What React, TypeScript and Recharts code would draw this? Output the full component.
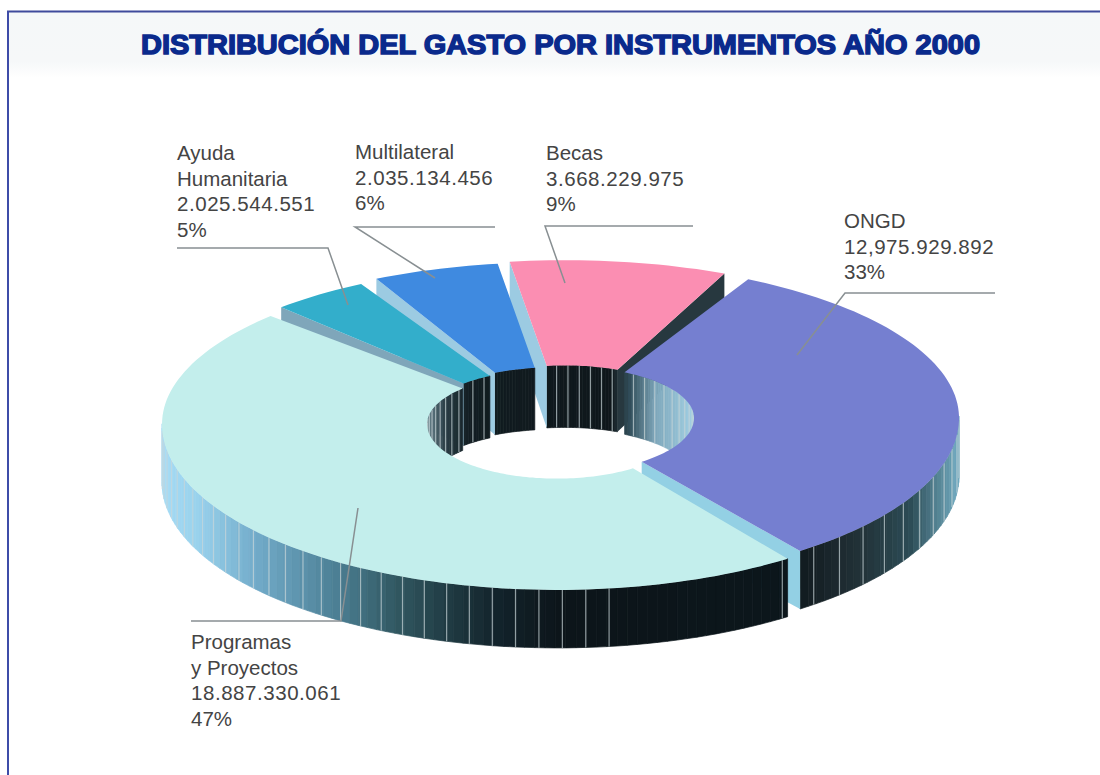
import { PieChart, Pie } from "recharts";

const categories = ["Ayuda Humanitaria", "Multilateral", "Becas", "ONGD", "Programas y Proyectos"];
const amounts = [2025544551, 2035134456, 3668229975, 12975929892, 18887330061];
const amountLabels = ["2.025.544.551", "2.035.134.456", "3.668.229.975", "12,975.929.892", "18.887.330.061"];
const percentLabels = ["5%", "6%", "9%", "33%", "47%"];
const nameLines = [["Ayuda", "Humanitaria"], ["Multilateral"], ["Becas"], ["ONGD"], ["Programas", "y Proyectos"]];

const rows = categories.map((name, i) => ({ name, value: amounts[i] }));
const total = amounts.reduce((a, b) => a + b, 0);

// painted in two passes so the slices overlap like the drawing: back ones going left, then the front ones
const backRows = [rows[2], rows[1], rows[0]];
const frontRows = [rows[3], rows[4]];
const sum = (list: { value: number }[]) => list.reduce((a, r) => a + r.value, 0);

const START_ANGLE = 64.7;
const WIDTH = 1100;
const HEIGHT = 775;
const CX = 557;
const CY = 424;
const OUTER = 395;
const INNER = 130;
const DEPTH = 58;
const INNER_DEPTH = 62;
const FONT = "'Liberation Sans', Arial, sans-serif";

// colours and offsets of each slice, same order as categories
const topColors = ["#33aecb", "#3f8ae0", "#fb8eb2", "#757fd0", "#c3eeec"];
const cutColors = ["#7fa6ba", "#9ccbe2", "#9ccbe2", "#93d0e4", "#93d0e4"];
const lowCutColors = ["#7fa6ba", "#9ccbe2", "#27383f", "#93d0e4", "#93d0e4"];
const offsets = [[-4, -3], [-4, -5], [8, -7], [7, -6], [0, 0]];
const trims = [[2.5, 1.5], [0, 0], [1.5, 0], [0, 2.5], [1.5, 1]];
const innerStripes = [6, 0, 5, 6, 5];
const outerStripes = [0, 0, 0, 5, 3.4];

// label block and leader line of each slice
const labelBoxes = [
  { x: 177, y: 160, line: [[177, 248], [328, 248], [348, 305]] },
  { x: 355, y: 159, line: [[495, 227], [355, 227], [435, 278]] },
  { x: 546, y: 160, line: [[693, 226], [545, 226], [565, 283]] },
  { x: 844, y: 228, line: [[995, 293], [845, 293], [797, 355]] },
  { x: 191, y: 649, line: [[191, 621], [341, 621], [358, 508]] },
];

const outerRamp: [number, string][] = [
  [162, "#a6dcf5"], [200, "#98d1ec"], [260, "#70a9c7"], [330, "#4f8399"], [400, "#30565f"],
  [450, "#1f3a42"], [500, "#12222a"], [560, "#0c151a"], [790, "#0c161b"], [815, "#162025"],
  [860, "#223238"], [910, "#2c4b55"], [957, "#6fa8bd"],
];
const innerRamp: [number, string][] = [
  [425, "#6f8a94"], [445, "#2a3d45"], [470, "#121d22"], [610, "#0f171b"], [630, "#33505c"],
  [655, "#7ea7bb"], [700, "#a8d6ea"],
];

const hex = (c: string) => [1, 3, 5].map((i) => parseInt(c.slice(i, i + 2), 16));
const rampColor = (ramp: [number, string][], x: number) => {
  if (x <= ramp[0][0]) return ramp[0][1];
  for (let i = 1; i < ramp.length; i++) {
    if (x <= ramp[i][0]) {
      const t = (x - ramp[i - 1][0]) / (ramp[i][0] - ramp[i - 1][0]);
      const a = hex(ramp[i - 1][1]);
      const b = hex(ramp[i][1]);
      return `rgb(${a.map((v, k) => Math.round(v + (b[k] - v) * t)).join(",")})`;
    }
  }
  return ramp[ramp.length - 1][1];
};

const rad = (d: number) => (d * Math.PI) / 180;
const toPath = (pts: number[][]) => "M" + pts.map((p) => `${p[0].toFixed(1)},${p[1].toFixed(1)}`).join("L") + "Z";

// flattened circle: a bit less tall behind than in front
const project = (cx: number, cy: number, deg: number, r: number, z = 0) => {
  const s = Math.sin(rad(deg));
  const tilt = s > 0 ? 0.397 : 0.42;
  return [cx + r * Math.cos(rad(deg)), cy - r * s * tilt + z];
};

const Slice3D = (props: any) => {
  const { name, startAngle, endAngle, cx, cy, innerRadius, outerRadius } = props;
  const i = categories.indexOf(name);
  const ox = cx + offsets[i][0];
  const oy = cy + offsets[i][1];
  const lo = Math.min(startAngle, endAngle) + trims[i][0];
  const hi = Math.max(startAngle, endAngle) - trims[i][1];
  const steps = Math.max(2, Math.ceil((hi - lo) / 1.5));
  const at = (k: number) => lo + ((hi - lo) * k) / steps;

  const outerArc: number[][] = [];
  const innerArc: number[][] = [];
  for (let k = 0; k <= steps; k++) {
    outerArc.push(project(ox, oy, at(k), outerRadius));
    innerArc.unshift(project(ox, oy, at(k), innerRadius));
  }

  const walls: any[] = [];
  for (let k = 0; k < steps; k++) {
    const a = at(k);
    const b = at(k + 1);
    const mid = (a + b) / 2;
    const front = Math.sin(rad(mid)) < 0;
    const r = front ? outerRadius : innerRadius;
    const dz = front ? DEPTH : INNER_DEPTH;
    const fill = rampColor(front ? outerRamp : innerRamp, project(ox, oy, mid, r)[0]);
    const d = toPath([
      project(ox, oy, a, r), project(ox, oy, b, r),
      project(ox, oy, b, r, dz), project(ox, oy, a, r, dz),
    ]);
    walls.push(<path key={`w${k}`} d={d} fill={fill} stroke={fill} strokeWidth={0.7} />);
  }

  // thin pale lines on the walls
  const stripes: any[] = [];
  const addStripes = (step: number, isFront: boolean) => {
    if (step <= 0) return;
    for (let a = lo + step / 2; a < hi; a += step) {
      const front = Math.sin(rad(a)) < 0;
      if (front !== isFront) continue;
      const r = front ? outerRadius : innerRadius;
      const p = project(ox, oy, a, r);
      const q = project(ox, oy, a, r, front ? DEPTH : INNER_DEPTH);
      if (front && p[0] > 610 && p[0] < 770) continue;
      stripes.push(
        <line key={`${front ? "o" : "i"}${a}`} x1={p[0]} y1={p[1]} x2={q[0]} y2={q[1]} stroke="#c9d6d8" strokeOpacity={0.7} strokeWidth={1.2} />
      );
    }
  };
  addStripes(innerStripes[i], false);
  addStripes(outerStripes[i], true);

  const cut = (deg: number, color: string) => (
    <path
      d={toPath([
        project(ox, oy, deg, outerRadius), project(ox, oy, deg, innerRadius),
        project(ox, oy, deg, innerRadius, INNER_DEPTH), project(ox, oy, deg, outerRadius, DEPTH),
      ])}
      fill={color}
    />
  );

  return (
    <g>
      {walls}
      {stripes}
      {Math.cos(rad(lo)) > 0 && cut(lo, lowCutColors[i])}
      {Math.cos(rad(hi)) < 0 && cut(hi, cutColors[i])}
      <path d={toPath([...outerArc, ...innerArc])} fill={topColors[i]} />
    </g>
  );
};

const SliceLabel = (props: any) => {
  const i = categories.indexOf(props.name);
  const box = labelBoxes[i];
  return (
    <g>
      <polyline points={box.line.map((p) => p.join(",")).join(" ")} fill="none" stroke="#888f92" strokeWidth={1.5} />
      <text x={box.x} y={box.y} fontFamily={FONT} fontSize={20.5} fill="#444">
        {nameLines[i].map((l, k) => (
          <tspan key={k} x={box.x} dy={k === 0 ? 0 : 25.5}>{l}</tspan>
        ))}
        <tspan x={box.x} dy={25.5} letterSpacing={0.55}>{amountLabels[i]}</tspan>
        <tspan x={box.x} dy={25.5}>{percentLabels[i]}</tspan>
      </text>
    </g>
  );
};

export default function App() {
  return (
    <div style={{ position: "absolute", left: 0, top: 0, width: WIDTH, height: HEIGHT, background: "#fff", overflow: "hidden" }}>
      <svg width={WIDTH} height={HEIGHT} style={{ position: "absolute", left: 0, top: 0 }}>
        <defs>
          <linearGradient id="band" x1="0" y1="0" x2="0" y2="1">
            <stop offset="0" stopColor="#f5f8f9" />
            <stop offset="0.75" stopColor="#f6f8f9" />
            <stop offset="1" stopColor="#ffffff" />
          </linearGradient>
        </defs>
        <rect x={8} y={12} width={1092} height={66} fill="url(#band)" />
        <line x1={7} y1={11.5} x2={1100} y2={11.5} stroke="#3f4b9c" strokeWidth={2} />
        <line x1={8} y1={11} x2={8} y2={775} stroke="#3e4ca8" strokeWidth={2} />
        <text
          x={141}
          y={54}
          fontFamily={FONT}
          fontWeight={700}
          fontSize={28}
          fill="#0a2a8c"
          stroke="#0a2a8c"
          strokeWidth={1.5}
          textLength={839}
          lengthAdjust="spacingAndGlyphs"
        >
          DISTRIBUCIÓN DEL GASTO POR INSTRUMENTOS AÑO 2000
        </text>
      </svg>
      <div style={{ position: "absolute", left: 0, top: 0 }}>
        <PieChart width={WIDTH} height={HEIGHT} margin={{ top: 0, right: 0, bottom: 0, left: 0 }}>
          <Pie
            data={backRows}
            dataKey="value"
            nameKey="name"
            cx={CX}
            cy={CY}
            innerRadius={INNER}
            outerRadius={OUTER}
            startAngle={START_ANGLE}
            endAngle={START_ANGLE + (360 * sum(backRows)) / total}
            shape={Slice3D}
            label={SliceLabel}
            labelLine={false}
            stroke="none"
            isAnimationActive={false}
          />
          <Pie
            data={frontRows}
            dataKey="value"
            nameKey="name"
            cx={CX}
            cy={CY}
            innerRadius={INNER}
            outerRadius={OUTER}
            startAngle={START_ANGLE}
            endAngle={START_ANGLE - (360 * sum(frontRows)) / total}
            shape={Slice3D}
            label={SliceLabel}
            labelLine={false}
            stroke="none"
            isAnimationActive={false}
          />
        </PieChart>
      </div>
    </div>
  );
}
